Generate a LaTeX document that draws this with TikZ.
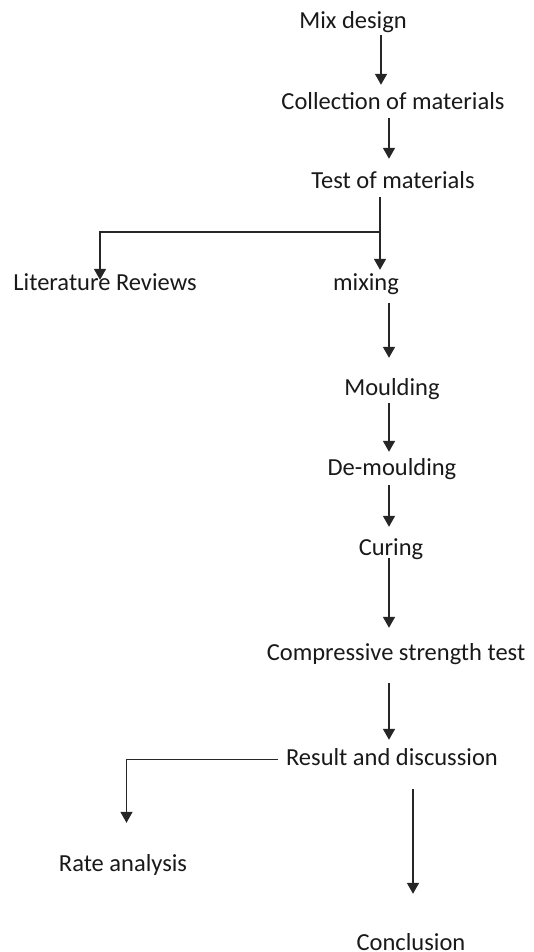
\documentclass[tikz,border=0pt]{standalone}
\usepackage{fontspec}
\setmainfont{Carlito}
\usepackage{tikz}
\usetikzlibrary{arrows.meta, calc}

\begin{document}
\begin{tikzpicture}[x=1pt, y=-1pt, line cap=butt,
    stage/.style={anchor=base, inner sep=0pt, text height=16pt, text depth=5pt,
                  font=\fontsize{24.5}{29}\selectfont, text=black!90},
    flow/.style={draw=black!85, line width=1.6pt, -{Triangle[width=12pt,length=11pt]}}]
\useasboundingbox (0,0) rectangle (534,952);
% Stages
\node[stage] (mix)     at (353,29)  {Mix design};
\node[stage] (collect) at (393,110) {Collection of materials};
\node[stage] (test)    at (393,189) {Test of materials};
\node[stage] (lit)     at (105,290) {Literature Reviews};
\node[stage] (mixing)  at (366,290) {mixing};
\node[stage] (mould)   at (392,395) {Moulding};
\node[stage] (demould) at (392,475) {De-moulding};
\node[stage] (cure)    at (391,555) {Curing};
\node[stage] (comp)    at (396,660) {Compressive strength test};
\node[stage] (result)  at (392,765) {Result and discussion};
\node[stage] (rate)    at (123,871) {Rate analysis};
\node[stage] (concl)   at (411,950) {Conclusion};
% Columns of the arrows
\coordinate (spine)  at (389,0);
\coordinate (top)    at (381,0);
\coordinate (split)  at (380,232);
\coordinate (litcol) at (100,0);
\coordinate (ratecol) at (126.5,0);
\coordinate (endcol) at (413,0);
% Main flow
\draw[flow, shorten <=1pt, shorten >=9pt]  (mix.south -| top) -- (collect.north -| top);
\draw[flow, shorten <=3pt, shorten >=14pt] (collect.south -| spine) -- (test.north -| spine);
\draw[flow, shorten <=3pt, shorten >=4pt]  (test.south -| split) -- (mixing.north -| split);
\draw[flow, shorten >=-6pt] (split) -| (lit.north -| litcol);
\draw[flow, shorten <=8pt, shorten >=21pt] (mixing.south -| spine) -- (mould.north -| spine);
\draw[flow, shorten <=3pt, shorten >=7pt]   (mould.south -| spine) -- (demould.north -| spine);
\draw[flow, shorten <=5pt, shorten >=12pt]  (demould.south -| spine) -- (cure.north -| spine);
\draw[flow, shorten <=-2pt, shorten >=16pt] (cure.south -| spine) -- (comp.north -| spine);
\draw[flow, shorten <=18pt, shorten >=9pt]  (comp.south -| spine) -- (result.north -| spine);
% Result branches
\draw[flow, shorten <=8pt, shorten >=32pt] (result.west) -| (rate.north -| ratecol);
\draw[flow, shorten <=19pt, shorten >=40pt] (result.south -| endcol) -- (concl.north -| endcol);
\end{tikzpicture}
\end{document}
